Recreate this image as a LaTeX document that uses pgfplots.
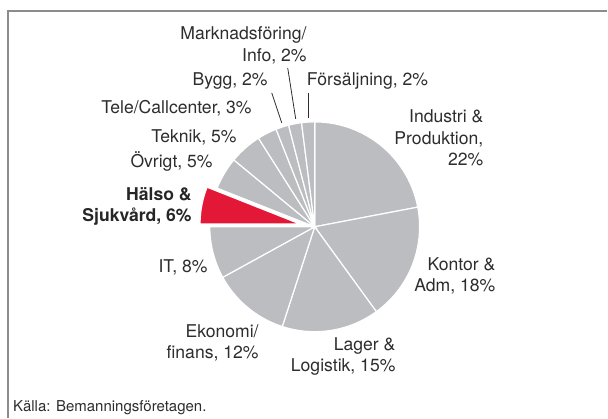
\documentclass[border=0pt]{standalone}
\usepackage{pgfplots}
\pgfplotsset{compat=1.18}
\usepackage{pgfplotstable}
\usepackage{fontspec}
\setmainfont{TeX Gyre Heros}
\definecolor{slicegray}{RGB}{188,189,192}
\definecolor{hred}{RGB}{227,24,55}
\definecolor{txt}{RGB}{45,45,45}
\definecolor{framec}{RGB}{140,140,140}

% Share per sector, clockwise from 12 o'clock
\pgfplotstableread{
pct
22
18
15
12
8
6
5
5
3
2
2
2
}\piedata

\begin{document}
\begin{tikzpicture}
\begin{axis}[
  scale only axis, width=608pt, height=418pt,
  xmin=0, xmax=608, ymin=0, ymax=418, y dir=reverse,
  hide axis, clip=false,
]
\path (axis cs:0,0) (axis cs:608,418);
\draw[framec, line width=1.2pt] (axis cs:8,418) -- (axis cs:8,11) -- (axis cs:608,11);
\def\cx{315}\def\cy{227}\def\R{105}
\pgfmathsetmacro\cum{0}
\pgfplotsforeachungrouped \i in {0,...,11}{%
  \pgfplotstablegetelem{\i}{pct}\of\piedata
  \pgfmathsetmacro\a{-90+3.6*\cum}%
  \pgfmathsetmacro\b{-90+3.6*(\cum+\pgfplotsretval)}%
  \pgfmathsetmacro\cum{\cum+\pgfplotsretval}%
  \ifnum\i=5
    \pgfmathsetmacro\m{(\a+\b)/2}%
    \pgfmathsetmacro\ox{\cx+15*cos(\m)}%
    \pgfmathsetmacro\oy{\cy+15*sin(\m)}%
    \edef\tmp{\noexpand\addplot[fill=hred, draw=white, line width=1.2pt, domain=\a:\b, samples=30] ({\ox+100*cos(x)},{\oy+100*sin(x)}) -- (axis cs:\ox,\oy) -- cycle;}%
  \else
    \edef\tmp{\noexpand\addplot[fill=slicegray, draw=white, line width=1.2pt, domain=\a:\b, samples=30] ({\cx+\R*cos(x)},{\cy+\R*sin(x)}) -- (axis cs:\cx,\cy) -- cycle;}%
  \fi
  \tmp
}
% leader lines
\draw[txt, line width=0.8pt] (axis cs:288,68) -- (axis cs:296,119);
\draw[txt, line width=0.8pt] (axis cs:272,93) -- (axis cs:282,123);
\draw[txt, line width=0.8pt] (axis cs:309,93) -- (axis cs:309,118);
% labels
\tikzset{lb/.style={inner sep=0pt, text=txt, font=\fontsize{17.6}{21}\selectfont}}
\node[lb, anchor=base east] at (axis cs:307,40) {Marknadsföring/};
\node[lb, anchor=base east] at (axis cs:307,62) {Info, 2\%};
\node[lb, anchor=base east] at (axis cs:268,86) {Bygg, 2\%};
\node[lb, anchor=base west] at (axis cs:307,86) {Försäljning, 2\%};
\node[lb, anchor=base east] at (axis cs:252,114) {Tele/Callcenter, 3\%};
\node[lb, anchor=base east] at (axis cs:237,143) {Teknik, 5\%};
\node[lb, anchor=base east] at (axis cs:213,168) {Övrigt, 5\%};
\node[lb, anchor=base east, text=black!85, font=\fontsize{17.6}{21}\selectfont\bfseries] at (axis cs:192,201) {Hälso \&};
\node[lb, anchor=base east, text=black!85, font=\fontsize{17.6}{21}\selectfont\bfseries] at (axis cs:192,222) {Sjukvård, 6\%};
\node[lb, anchor=base east] at (axis cs:208,273) {IT, 8\%};
\node[lb, anchor=base east] at (axis cs:259,338) {Ekonomi/};
\node[lb, anchor=base east] at (axis cs:259,359) {finans, 12\%};
\node[lb, anchor=base east] at (axis cs:396,351) {Lager \&};
\node[lb, anchor=base east] at (axis cs:396,372) {Logistik, 15\%};
\node[lb, anchor=base east] at (axis cs:496,271) {Kontor \&};
\node[lb, anchor=base east] at (axis cs:496,292) {Adm, 18\%};
\node[lb, anchor=base east] at (axis cs:484,123) {Industri \&};
\node[lb, anchor=base east] at (axis cs:484,145) {Produktion,};
\node[lb, anchor=base east] at (axis cs:484,166) {22\%};
\node[inner sep=0pt, text=txt, font=\fontsize{15}{18}\selectfont, anchor=base west] at (axis cs:13,412) {Källa: Bemanningsföretagen.};
\end{axis}
\end{tikzpicture}
\end{document}
